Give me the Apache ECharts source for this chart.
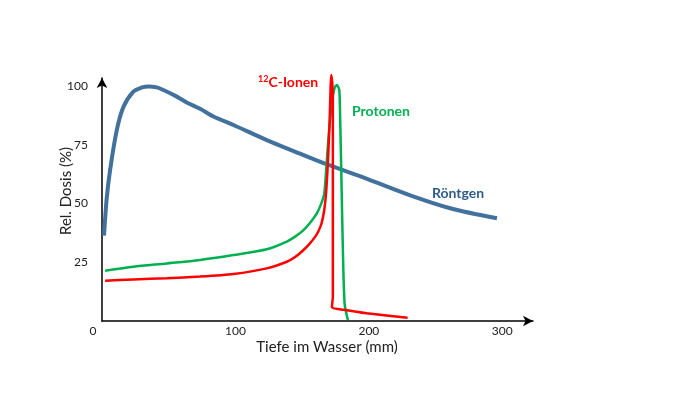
<!DOCTYPE html>
<html>
<head>
<meta charset="utf-8">
<script src="https://cdn.jsdelivr.net/npm/echarts@6/dist/echarts.min.js"></script>
<style>
html,body{margin:0;padding:0;background:#fff;}
#chart{width:700px;height:394px;}
</style>
</head>
<body>
<div id="chart"></div>
<script>
// Depth in water (mm) and relative dose (%)
const xTicks = [0, 100, 200, 300];
const yTicks = [25, 50, 75, 100];

const roentgenX = [1.5, 3.5, 6, 11, 16, 23.5, 30, 35, 41, 46, 55, 63.5, 73.5, 83.5, 98.5, 123.5, 148.5, 169.8, 198.6, 231, 261, 296];
const roentgenY = [36.3, 52, 64, 81, 91, 97.6, 99.4, 99.8, 99.4, 98.3, 95.8, 93, 90.3, 87, 83.4, 77, 71.2, 66.4, 60.5, 53.5, 48, 43.7];

const protonX = [2.3, 23.5, 48.5, 73.5, 98.5, 123.5, 138.5, 145, 151, 156, 161, 164, 166.5, 168, 169.8, 172.3, 174.2, 176, 177.8, 178.5, 179.3, 180.3, 181.8, 184.3];
const protonY = [21.4, 23.1, 24.5, 26, 28.1, 30.5, 33.8, 36, 38.7, 41.8, 45.8, 49.5, 54, 64.3, 78.4, 92.6, 99, 100.4, 98.3, 85.5, 64.3, 35.9, 7.5, 0.4];

const carbonX = [2.3, 23.5, 48.5, 73.5, 98.5, 123.5, 138.5, 145, 151, 155.5, 159.8, 162, 164.5, 166.5, 168, 169.5, 170.6, 171.8, 172.6, 173, 173, 172.3, 181, 198.5, 229];
const carbonY = [17.1, 17.7, 18.2, 18.9, 20, 22.4, 25.2, 27.3, 30.2, 32.8, 35.9, 38, 41.5, 47, 55, 70, 85.5, 104.7, 101, 95, 10.4, 5.8, 4.8, 3.3, 1.4];

const labels = {
  x: 'Tiefe im Wasser (mm)',
  y: 'Rel. Dosis (%)',
  carbon: 'C-Ionen',
  carbonSup: '12',
  proton: 'Protonen',
  roentgen: 'Röntgen'
};

function pairs(xs, ys) { return xs.map((x, i) => [x, ys[i]]); }

const FONT = 'Lato, "Open Sans", sans-serif';
const chart = echarts.init(document.getElementById('chart'), null, {renderer: 'canvas'});

chart.setOption({
  animation: false,
  backgroundColor: '#ffffff',
  grid: {left: 102, right: 167, top: 78, bottom: 73, containLabel: false},
  xAxis: {
    type: 'value', min: 0, max: 323, interval: 100,
    splitLine: {show: false},
    axisTick: {show: false},
    axisLine: {show: true, onZero: true, symbol: ['none', 'arrow'], symbolSize: [8, 10],
      lineStyle: {color: '#000', width: 1.5}},
    axisLabel: {
      margin: 4, color: '#222', fontSize: 12, fontFamily: FONT,
      formatter: v => {
        if (!xTicks.includes(v)) return '';
        if (v === 0) return '{z|0}';
        return String(v);
      },
      rich: {z: {padding: [0, 18, 0, 0], fontSize: 12, color: '#222', fontFamily: FONT}}
    }
  },
  yAxis: {
    type: 'value', min: 0, max: 103.4, interval: 25,
    splitLine: {show: false},
    axisTick: {show: false},
    axisLine: {show: true, onZero: true, symbol: ['none', 'arrow'], symbolSize: [8, 10],
      lineStyle: {color: '#000', width: 1.5}},
    axisLabel: {
      margin: 14, color: '#222', fontSize: 12, fontFamily: FONT,
      formatter: v => yTicks.includes(v) ? String(v) : ''
    }
  },
  series: [
    {
      type: 'line', name: labels.roentgen, data: pairs(roentgenX, roentgenY),
      showSymbol: false, smooth: 0.3, clip: false,
      lineStyle: {color: '#41719C', width: 4}
    },
    {
      type: 'line', name: labels.proton, data: pairs(protonX, protonY),
      showSymbol: false, smooth: 0.25, clip: false,
      lineStyle: {color: '#00B050', width: 2.5}
    },
    {
      type: 'line', name: labels.carbon, data: pairs(carbonX, carbonY),
      showSymbol: false, smooth: 0.2, clip: false,
      lineStyle: {color: '#FF0000', width: 2.5}
    }
  ],
  graphic: [
    {type: 'text', x: 327, y: 347,
      style: {text: labels.x, font: '15px ' + FONT, fill: '#222', textAlign: 'center', textVerticalAlign: 'middle'}},
    {type: 'text', x: 66, y: 191, rotation: Math.PI / 2,
      style: {text: labels.y, font: '15px ' + FONT, fill: '#222', textAlign: 'center', textVerticalAlign: 'middle'}},
    {type: 'text', x: 258, y: 82,
      style: {
        text: '{s|' + labels.carbonSup + '}{b|' + labels.carbon + '}',
        textVerticalAlign: 'middle',
        rich: {
          s: {fontSize: 9, fontWeight: 'bold', fill: '#FF0000', color: '#FF0000', fontFamily: FONT, verticalAlign: 'top', padding: [0, 0, 6, 0]},
          b: {fontSize: 14, fontWeight: 'bold', fill: '#FF0000', color: '#FF0000', fontFamily: FONT}
        }
      }},
    {type: 'text', x: 352, y: 111,
      style: {text: labels.proton, font: 'bold 14px ' + FONT, fill: '#00B050', textVerticalAlign: 'middle'}},
    {type: 'text', x: 432, y: 193,
      style: {text: labels.roentgen, font: 'bold 14px ' + FONT, fill: '#2E5C8A', textVerticalAlign: 'middle'}}
  ]
});
</script>
</body>
</html>
